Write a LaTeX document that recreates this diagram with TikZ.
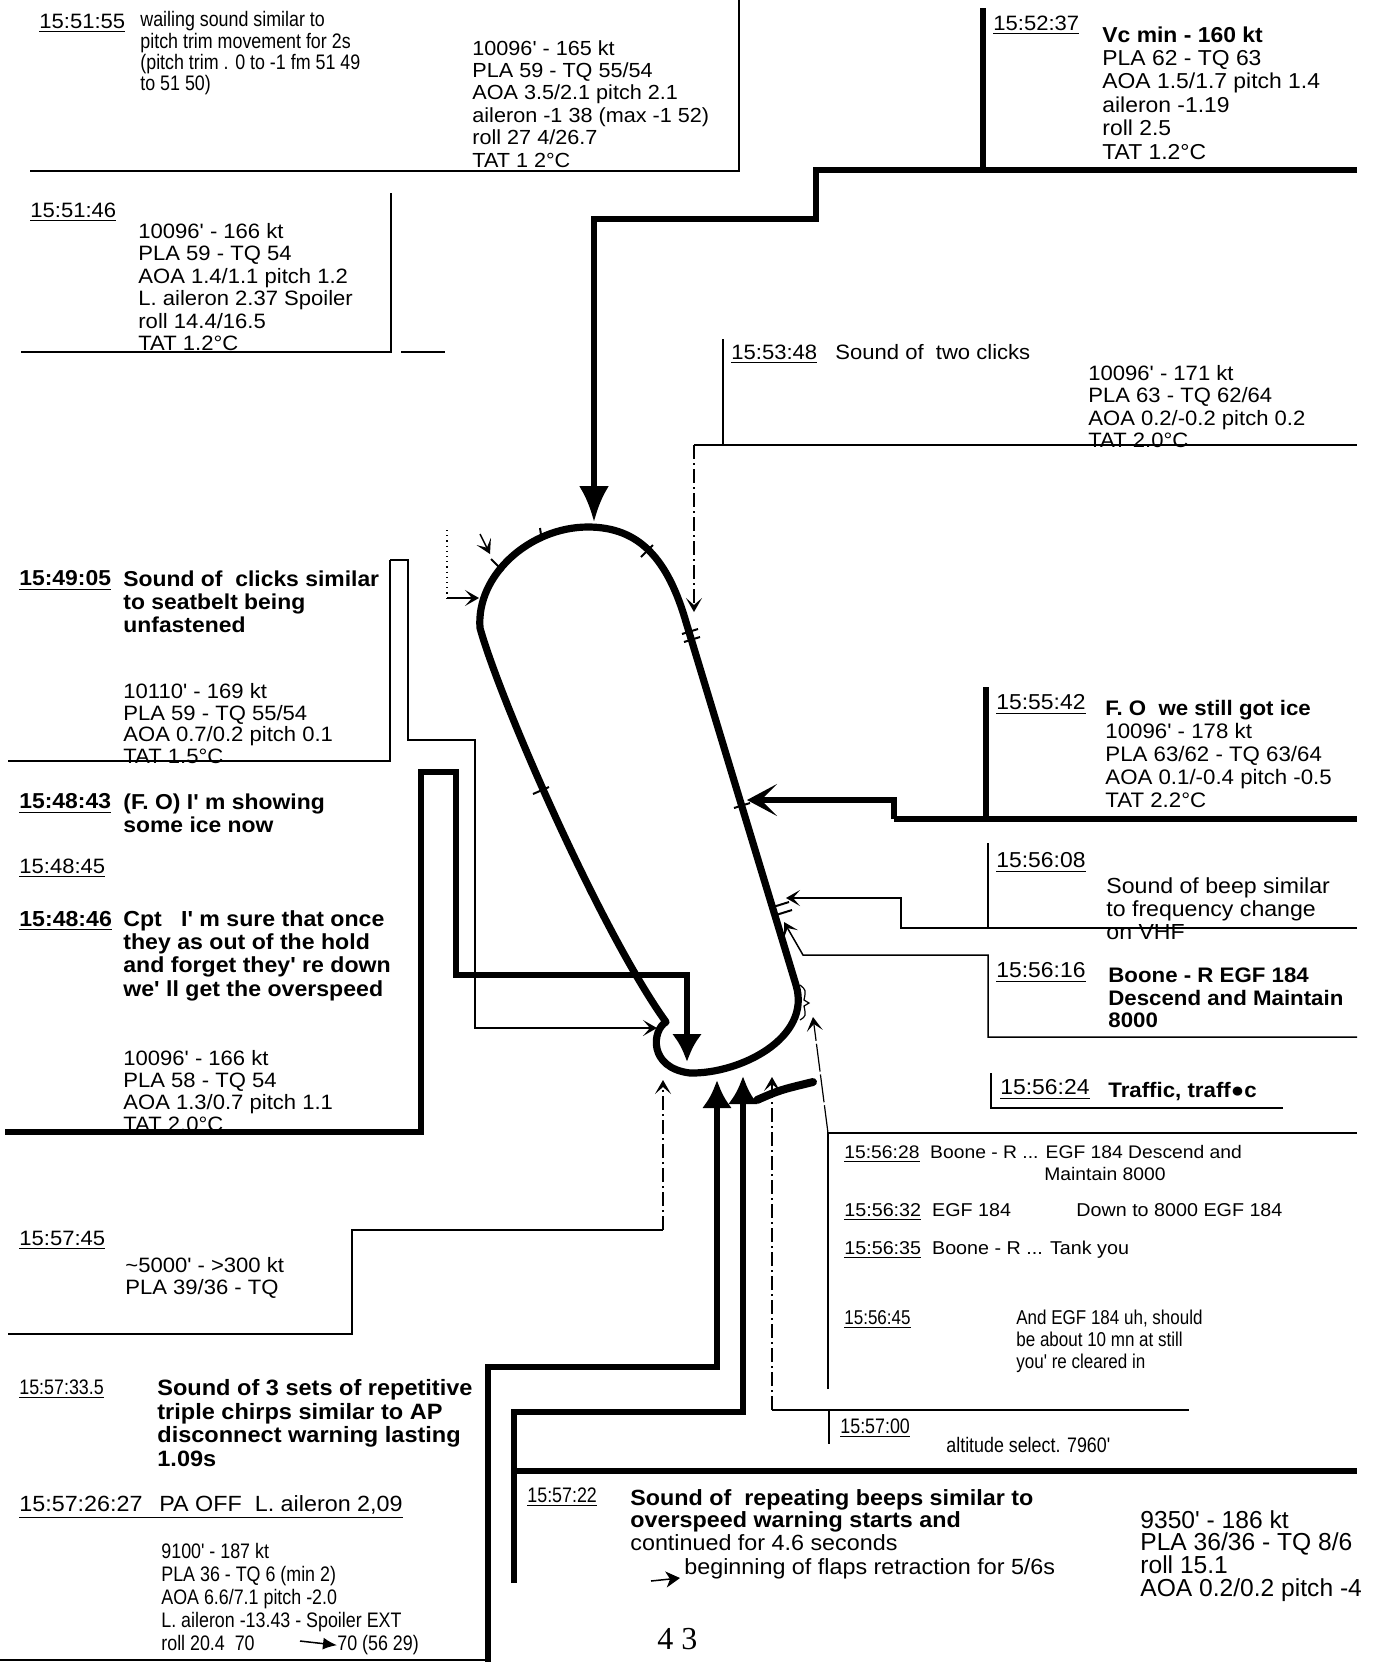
\documentclass[tikz,border=0pt]{standalone}
\usepackage{fontspec}
\setmainfont{Liberation Sans}
\newfontfamily\fA[FakeStretch=1.06]{Liberation Sans}
\newfontfamily\fN[FakeStretch=0.85]{Liberation Sans}
\newfontfamily\fP{Liberation Sans}
\newfontfamily\fS{Liberation Serif}
\usetikzlibrary{arrows.meta}
\newcommand\sr{\rule{0pt}{0.72em}}
\newcommand\fR{\fA\fontsize{10.4}{11.2}\selectfont}
\newcommand\fB{\fA\bfseries\fontsize{10.8}{11.5}\selectfont}
\newcommand\fNs{\fN\fontsize{10.5}{10.7}\selectfont}
\tikzset{
  tx/.style={anchor=north west, inner sep=0pt, align=left},
  thn/.style={line width=0.75pt},
  thk/.style={line width=2.8pt},
  lp/.style={line width=3.6pt, line join=round},
  dd/.style={line width=0.6pt, dash pattern=on 7pt off 2pt on 1pt off 2pt},
  sh/.style={-{Stealth[length=7pt,width=8pt,inset=3.5pt]}},
  bigh/.style={-{Latex[length=18pt,width=15pt]}},
  midh/.style={-{Latex[length=14pt,width=15pt]}},
  barbh/.style={-{Stealth[length=15pt,width=16pt,inset=8pt]}}
}
\begin{document}
\begin{tikzpicture}[x=0.5pt,y=-0.5pt]
\fill[white] (0,0) rectangle (1377,1662);
\useasboundingbox (0,0) rectangle (1377,1662);

% ---------------- arrow tip coordinates ----------------
\coordinate (tipTop) at (594,522);
\coordinate (tipR1) at (747,800);
\coordinate (tipR2) at (786,898);
\coordinate (tipR3) at (784,922);
\coordinate (tipR4) at (813,1017);
\coordinate (tipB1) at (663,1080);
\coordinate (tipB2) at (772,1077);
\coordinate (tipB3) at (717,1080);
\coordinate (tipB4) at (743,1076);
\coordinate (tipL1) at (687,1062);
\coordinate (tipL2) at (657,1028);
\coordinate (tipL3) at (479,598);
\coordinate (tipL4) at (490,554);
\coordinate (tipT2) at (694,612);

% ---------------- loop ----------------
\draw[lp] (588,527) .. controls (530,527) and (476,575) .. (480,628)
  .. controls (500,700) and (600,930) .. (666,1022)
  .. controls (652,1030) and (648,1068) .. (690,1073)
  .. controls (740,1074) and (812,1038) .. (796,985)
  -- (686,622)
  .. controls (668,560) and (640,527) .. (588,527) -- cycle;
% tick marks on the loop
\draw[line width=1pt] (491,559) -- (503,571);
\draw[line width=1pt] (533,794) -- (549,787);
\draw[line width=1pt] (540,528) -- (542,541);
\draw[line width=1pt] (641,557) -- (653,545);
\draw[line width=1pt] (682,634) -- (698,629);
\draw[line width=1pt] (684,642) -- (700,637);
\draw[line width=1pt] (734,808) -- (750,803);
\draw[line width=1pt] (773,907) -- (789,902);
\draw[line width=1pt] (776,915) -- (792,910);
\draw[line width=0.6pt] (800,985) .. controls (806,990) .. (804,1000) -- (809,1003) -- (804,1006) .. controls (806,1016) .. (800,1020);

% ---------------- top-left box 15:51:55 ----------------
\node[tx,font=\fR] (t1) at (39,13) {\sr\underline{15:51:55}};
\node[tx,font=\fNs] (t1a) at (140,11) {\sr wailing sound similar to\\pitch trim movement for 2s\\(pitch trim . 0 to -1 fm 51 49\\to 51 50)};
\node[tx,font={\fA\fontsize{10.2}{11.2}\selectfont}] (t1b) at (472,40) {\sr 10096' - 165 kt\\PLA 59 - TQ 55/54\\AOA 3.5/2.1 pitch 2.1\\aileron -1 38 (max -1 52)\\roll 27 4/26.7\\TAT 1 2°C};
\draw[thn] (30,171) -- (739,171) -- (739,0);

% ---------------- box 15:51:46 ----------------
\node[tx,font=\fR] (t2) at (30,202) {\sr\underline{15:51:46}};
\node[tx,font=\fR] (t2a) at (138,223) {\sr 10096' - 166 kt\\PLA 59 - TQ 54\\AOA 1.4/1.1 pitch 1.2\\L. aileron 2.37 Spoiler\\roll 14.4/16.5\\TAT 1.2°C};
\draw[thn] (21,352) -- (391,352) -- (391,193);
\draw[thn] (401,352) -- (445,352);

% ---------------- box 15:52:37 ----------------
\node[tx,font=\fR] (t3) at (993,15) {\sr\underline{15:52:37}};
\node[tx,font={\fA\fontsize{10.8}{11.7}\selectfont}] (t3a) at (1102,26) {\sr\textbf{Vc min - 160 kt}\\PLA 62 - TQ 63\\AOA 1.5/1.7 pitch 1.4\\aileron -1.19\\roll 2.5\\TAT 1.2°C};
\draw[thk] (983,8) -- (983,170);
\draw[thk,bigh] (1357,170) -- (816,170) -- (816,219) -- (594,219) -- (tipTop);

% ---------------- box 15:53:48 ----------------
\node[tx,font=\fR] (t4) at (731,344) {\sr\underline{15:53:48}};
\node[tx,font=\fR] (t4b) at (835,344) {\sr Sound of\ \ two clicks};
\node[tx,font=\fR] (t4a) at (1088,365) {\sr 10096' - 171 kt\\PLA 63 - TQ 62/64\\AOA 0.2/-0.2 pitch 0.2\\TAT 2.0°C};
\draw[thn] (723,339) -- (723,445);
\draw[thn] (694,445) -- (1357,445);
\draw[dd,sh] (694,445) -- (tipT2);

% ---------------- small left arrows ----------------
\draw[line width=0.6pt, dotted] (447,530) -- (447,598);
\draw[thn,sh] (447,598) -- (tipL3);
\draw[thn,sh] (480,534) -- (tipL4);

% ---------------- left box 15:49:05 ----------------
\node[tx,font=\fB] (t5) at (19,570) {\sr\underline{15:49:05}};
\node[tx,font=\fB] (t5a) at (123,570) {\sr Sound of\ \ clicks similar\\to seatbelt being\\unfastened};
\node[tx,font={\fA\fontsize{10.4}{10.85}\selectfont}] (t5b) at (123,683) {\sr 10110' - 169 kt\\PLA 59 - TQ 55/54\\AOA 0.7/0.2 pitch 0.1\\TAT 1.5°C};
\draw[thn] (8,761) -- (390,761) -- (390,560);
\draw[thn,sh] (390,560) -- (408,560) -- (408,740) -- (475,740) -- (475,1028) -- (tipL2);

% ---------------- left box 15:48:43 ... ----------------
\node[tx,font=\fB] (t6) at (19,793) {\sr\underline{15:48:43}};
\node[tx,font=\fB] (t6a) at (123,793) {\sr (F. O) I' m showing\\some ice now};
\node[tx,font=\fR] (t7) at (19,858) {\sr\underline{15:48:45}};
\node[tx,font={\fA\bfseries\fontsize{10.9}{11.65}\selectfont}] (t8) at (19,910) {\sr\underline{15:48:46}};
\node[tx,font={\fA\bfseries\fontsize{10.9}{11.65}\selectfont}] (t8a) at (123,910) {\sr Cpt\ \ \ I' m sure that once\\they as out of the hold\\and forget they' re down\\we' ll get the overspeed};
\node[tx,font={\fA\fontsize{10.4}{11}\selectfont}] (t8b) at (123,1050) {\sr 10096' - 166 kt\\PLA 58 - TQ 54\\AOA 1.3/0.7 pitch 1.1\\TAT 2.0°C};
\draw[thk,midh] (5,1132) -- (421,1132) -- (421,772) -- (456,772) -- (456,975) -- (687,975) -- (tipL1);

% ---------------- right box 15:55:42 ----------------
\node[tx,font={\fA\fontsize{10.8}{11.5}\selectfont}] (t9) at (996,694) {\sr\underline{15:55:42}};
\node[tx,font={\fA\fontsize{10.5}{11.5}\selectfont}] (t9a) at (1105,700) {\sr\textbf{F. O\ \ we still got ice}\\10096' - 178 kt\\PLA 63/62 - TQ 63/64\\AOA 0.1/-0.4 pitch -0.5\\TAT 2.2°C};
\draw[thk] (986,687) -- (986,819);
\draw[thk] (1357,819) -- (894,819);
\draw[thk,barbh] (894,819) -- (894,800) -- (tipR1);

% ---------------- right box 15:56:08 ----------------
\node[tx,font={\fA\fontsize{10.8}{11.5}\selectfont}] (t10) at (996,852) {\sr\underline{15:56:08}};
\node[tx,font={\fA\fontsize{10.9}{11.5}\selectfont}] (t10a) at (1106,877) {\sr Sound of beep similar\\to frequency change\\on VHF};
\draw[thn] (988,843) -- (988,928);
\draw[thn,sh] (1357,928) -- (901,928) -- (901,898) -- (tipR2);

% ---------------- right box 15:56:16 ----------------
\node[tx,font={\fA\fontsize{10.8}{11.5}\selectfont}] (t11) at (996,962) {\sr\underline{15:56:16}};
\node[tx,font={\fA\bfseries\fontsize{10.5}{11.25}\selectfont}] (t11a) at (1108,967) {\sr Boone - R EGF 184\\Descend and Maintain\\8000};
\draw[thn,sh] (1357,1037) -- (988,1037) -- (988,955) -- (803,955) -- (tipR3);

% ---------------- right box 15:56:24 ----------------
\node[tx,font={\fA\fontsize{10.8}{11.5}\selectfont}] (t12) at (1000,1079) {\sr\underline{15:56:24}};
\node[tx,font={\fA\bfseries\fontsize{10.5}{11.25}\selectfont}] (t12a) at (1108,1082) {\sr Traffic, traff●c};
\draw[thn] (991,1073) -- (991,1108) -- (1283,1108);

% ---------------- box 15:56:28 ----------------
\node[tx,font={\fA\fontsize{9.1}{11}\selectfont}] (t13) at (844,1145) {\sr\underline{15:56:28}\ \ Boone - R ... EGF 184 Descend and};
\node[tx,font={\fA\fontsize{9.1}{11}\selectfont}] (t13b) at (1044,1167) {\sr Maintain 8000};
\node[tx,font={\fA\fontsize{9.3}{11}\selectfont}] (t14) at (844,1203) {\sr\underline{15:56:32}\ \ EGF 184};
\node[tx,font={\fA\fontsize{9.3}{11}\selectfont}] (t14b) at (1076,1203) {\sr Down to 8000 EGF 184};
\node[tx,font={\fA\fontsize{9.3}{11}\selectfont}] (t15) at (844,1241) {\sr\underline{15:56:35}\ \ Boone - R ... Tank you};
\node[tx,font={\fN\fontsize{10}{11}\selectfont}] (t16) at (844,1310) {\sr\underline{15:56:45}};
\node[tx,font={\fN\fontsize{10}{11}\selectfont}] (t16a) at (1016,1310) {\sr And EGF 184 uh, should\\be about 10 mn at still\\you' re cleared in};
\draw[thn] (828,1389) -- (828,1133) -- (1357,1133);
\draw[line width=0.6pt, dash pattern=on 14pt off 1.5pt, sh] (828,1133) -- (tipR4);

% ---------------- box 15:57:00 ----------------
\node[tx,font={\fN\fontsize{10.5}{11}\selectfont}] (t17) at (840,1418) {\sr\underline{15:57:00}};
\node[tx,font={\fN\fontsize{10.5}{11}\selectfont}] (t17a) at (946,1437) {\sr altitude select. 7960'};
\draw[thn] (772,1410) -- (1189,1410);
\draw[thn] (829,1410) -- (829,1444);
\draw[dd,sh] (772,1410) -- (tipB2);

% ---------------- box 15:57:45 ----------------
\node[tx,font=\fR] (t18) at (19,1230) {\sr\underline{15:57:45}};
\node[tx,font={\fA\fontsize{10.4}{11}\selectfont}] (t18a) at (125,1257) {\sr\textasciitilde5000' - >300 kt\\PLA 39/36 - TQ};
\draw[thn] (8,1334) -- (352,1334) -- (352,1230) -- (663,1230);
\draw[dd,sh] (663,1230) -- (tipB1);

% ---------------- lower-left box ----------------
\node[tx,font={\fN\fontsize{10.5}{11}\selectfont}] (t19) at (19,1379) {\sr\underline{15:57:33.5}};
\node[tx,font={\fA\bfseries\fontsize{11.1}{11.85}\selectfont}] (t19a) at (157,1379) {\sr Sound of 3 sets of repetitive\\triple chirps similar to AP\\disconnect warning lasting\\1.09s};
\node[tx,font={\fA\fontsize{11}{11}\selectfont}] (t20) at (19,1495) {\sr\underline{\makebox[70pt][l]{15:57:26:27}PA OFF\ \ L. aileron 2,09}};
\node[tx,font={\fN\fontsize{10.5}{11.5}\selectfont}] (t21) at (161,1543) {\sr 9100' - 187 kt\\PLA 36 - TQ 6 (min 2)\\AOA 6.6/7.1 pitch -2.0\\L. aileron -13.43 - Spoiler EXT\\roll 20.4\ \ 70};
\node[tx,font={\fN\fontsize{10.5}{11.5}\selectfont}] (t21b) at (337,1635) {\sr 70 (56 29)};
\draw[thn,-{Latex[length=7pt,width=6pt]}] (300,1641) -- (t21b.west);
\draw[thn] (0,1660) -- (488,1660);
\draw[thk,midh] (488,1662) -- (488,1367) -- (717,1367) -- (tipB3);

% ---------------- box 15:57:22 ----------------
\node[tx,font={\fN\fontsize{10.5}{11}\selectfont}] (t22) at (527,1487) {\sr\underline{15:57:22}};
\node[tx,font={\fA\fontsize{11}{11.25}\selectfont}] (t22a) at (630,1489) {\sr\textbf{Sound of\ \ repeating beeps similar to}\\\textbf{overspeed warning starts and}\\continued for 4.6 seconds};
\node[tx,font={\fA\fontsize{11}{11.25}\selectfont}] (t22b) at (684,1558) {\sr beginning of flaps retraction for 5/6s};
\draw[thn,-{Stealth[length=7pt,width=8pt,inset=2pt]}] (651,1581) -- (680,1578);
\node[tx,font={\fP\fontsize{12.3}{11.35}\selectfont}] (t22c) at (1140,1510) {\sr 9350' - 186 kt\\PLA 36/36 - TQ 8/6\\roll 15.1\\AOA 0.2/0.2 pitch -4};
\draw[thk] (514,1583) -- (514,1471) -- (1357,1471);
\draw[thk,midh] (514,1471) -- (514,1412) -- (743,1412) -- (tipB4);
\draw[line width=4pt, line cap=round] (757,1100) .. controls (780,1090) .. (813,1082);

% ---------------- page number ----------------
\node[tx,font={\fS\fontsize{16}{16}\selectfont}] (pn) at (657,1626) {\sr 4 3};
\end{tikzpicture}
\end{document}
